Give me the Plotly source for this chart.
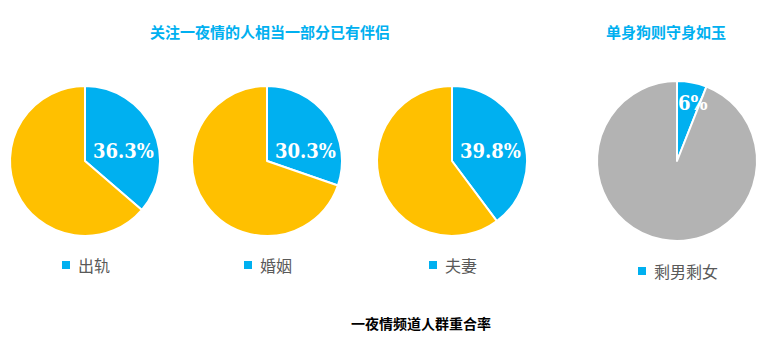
import math
import plotly.graph_objects as go

# Share of one-night-stand channel users per group (percent)
categories = ["出轨", "婚姻", "夫妻", "剩男剩女"]
share_values = [36.3, 30.3, 39.8, 6]
other_label = "其他"

title_left = "关注一夜情的人相当一部分已有伴侣"
title_right = "单身狗则守身如玉"
title_bottom = "一夜情频道人群重合率"

W, H = 776, 350
BLUE = "#00B0F0"
YELLOW = "#FFC000"
GRAY = "#B3B3B3"

# pie boxes in pixels: (left, top, size)
boxes = [(10, 86, 150), (192, 86, 150), (377, 86, 150), (597, 81, 160)]
rest_colors = [YELLOW, YELLOW, YELLOW, GRAY]
legend_y = [265, 265, 265, 271]

fig = go.Figure()
shapes = []
annotations = []

for i, (cat, v) in enumerate(zip(categories, share_values)):
    left, top, size = boxes[i]
    dom_x = [left / W, (left + size) / W]
    dom_y = [1 - (top + size) / H, 1 - top / H]
    fig.add_trace(go.Pie(
        labels=[cat, other_label],
        values=[v, round(100 - v, 1)],
        textinfo="none",
        marker=dict(colors=[BLUE, rest_colors[i]], line=dict(color="white", width=2)),
        direction="clockwise",
        rotation=0,
        sort=False,
        showlegend=False,
        hoverinfo="label+value",
        domain=dict(x=dom_x, y=dom_y),
    ))

    # value label inside the blue slice
    cx = left + size / 2
    cy = top + size / 2
    r = size / 2
    frac = v / 100
    if frac > 0.2:
        ang, rr = math.radians(75), r * 0.53
    else:
        ang, rr = math.pi * frac * 1.4, r * 0.75
    tx = cx + rr * math.sin(ang)
    ty = cy - rr * math.cos(ang)
    annotations.append(dict(
        text=f"<b>{v:g}%</b>", xref="paper", yref="paper",
        x=tx / W, y=1 - ty / H, xanchor="center", yanchor="middle", showarrow=False,
        font=dict(family="DejaVu Serif Condensed", size=20, color="white"),
    ))

    # legend entry under each pie: blue square + category name
    text_w = 16 * len(cat)
    total = 8 + 6 + text_w
    sq_left = cx - total / 2
    ly = legend_y[i]
    shapes.append(dict(
        type="rect", xref="paper", yref="paper",
        x0=sq_left / W, x1=(sq_left + 8) / W,
        y0=1 - (ly + 4) / H, y1=1 - (ly - 4) / H,
        fillcolor=BLUE, line=dict(width=0),
    ))
    annotations.append(dict(
        text=cat, xref="paper", yref="paper",
        x=(sq_left + 14) / W, y=1 - ly / H,
        xanchor="left", yanchor="middle", showarrow=False,
        font=dict(family="Noto Sans CJK SC", size=16, color="#595959"),
    ))

annotations += [
    dict(text=f"<b>{title_left}</b>", xref="paper", yref="paper",
         x=270 / W, y=1 - 32 / H, xanchor="center", yanchor="middle", showarrow=False,
         font=dict(family="Noto Sans CJK SC", size=15, color=BLUE)),
    dict(text=f"<b>{title_right}</b>", xref="paper", yref="paper",
         x=666 / W, y=1 - 32 / H, xanchor="center", yanchor="middle", showarrow=False,
         font=dict(family="Noto Sans CJK SC", size=15, color=BLUE)),
    dict(text=f"<b>{title_bottom}</b>", xref="paper", yref="paper",
         x=421 / W, y=1 - 323 / H, xanchor="center", yanchor="middle", showarrow=False,
         font=dict(family="Noto Sans CJK SC", size=14, color="black")),
]

fig.update_layout(
    width=W, height=H,
    margin=dict(l=0, r=0, t=0, b=0),
    paper_bgcolor="white",
    plot_bgcolor="white",
    shapes=shapes,
    annotations=annotations,
)

fig.write_html("out.html")
